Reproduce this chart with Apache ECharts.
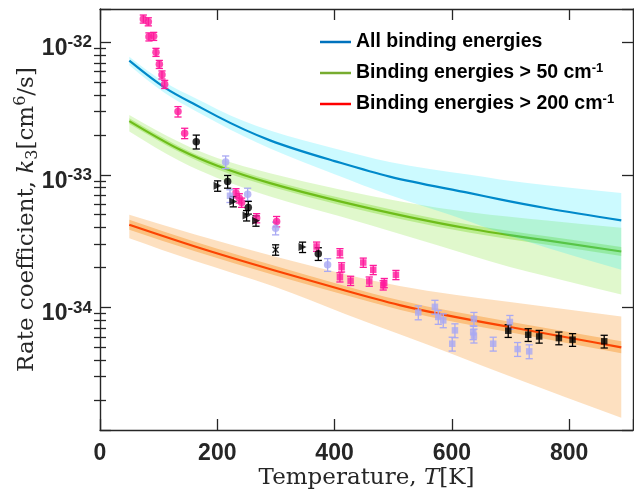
<!DOCTYPE html>
<html><head><meta charset="utf-8">
<script src="https://cdn.jsdelivr.net/npm/echarts@6/dist/echarts.min.js"></script>
<style>html,body{margin:0;padding:0;background:#fff}#c{width:634px;height:495px}</style>
</head><body><div id="c"></div>
<script>
// ---------- data (k in cm^6/s, T in K) ----------
const X_MIN = 0, X_MAX = 909;
const Y_MIN = 1.189e-35, Y_MAX = 1.782e-32;
const xTickStep = 200;
const yMinorTicks = [2e-35,3e-35,4e-35,5e-35,6e-35,7e-35,8e-35,9e-35,
                     2e-34,3e-34,4e-34,5e-34,6e-34,7e-34,8e-34,9e-34,
                     2e-33,3e-33,4e-33,5e-33,6e-33,7e-33,8e-33,9e-33];

const legendNames = ['All binding energies', 'Binding energies > 50 cm-1', 'Binding energies > 200 cm-1'];

// All binding energies
const allT     = [50, 111, 162, 200, 290, 400, 494, 631, 682, 762, 889];
const allK     = [7.26e-33, 4.53e-33, 3.39e-33, 2.76e-33, 1.82e-33, 1.27e-33, 9.70e-34, 7.28e-34, 6.53e-34, 5.60e-34, 4.53e-34];
const allUpper = [7.78e-33, 4.97e-33, 3.80e-33, 3.13e-33, 2.16e-33, 1.58e-33, 1.25e-33, 1.00e-33, 9.23e-34, 8.35e-34, 7.28e-34];
const allLower = [6.70e-33, 4.13e-33, 3.05e-33, 2.47e-33, 1.58e-33, 1.01e-33, 7.03e-34, 4.43e-34, 3.67e-34, 2.82e-34, 1.92e-34];

// Binding energies > 50 cm-1
const b50T       = [50, 136, 200, 290, 409, 631, 699, 762, 889];
const b50K       = [2.54e-33, 1.55e-33, 1.17e-33, 8.65e-34, 6.31e-34, 3.92e-34, 3.51e-34, 3.20e-34, 2.64e-34];
const b50Upper   = [2.83e-33, 1.76e-33, 1.34e-33, 1.03e-33, 7.76e-34, 5.22e-34, 4.82e-34, 4.52e-34, 3.98e-34];
const b50Lower   = [2.12e-33, 1.27e-33, 9.48e-34, 6.87e-34, 4.86e-34, 2.47e-34, 2.02e-34, 1.72e-34, 1.25e-34];
const b50InUpper = [2.67e-33, 1.63e-33, 1.23e-33, 9.16e-34, 6.71e-34, 4.20e-34, 3.77e-34, 3.44e-34, 2.86e-34];
const b50InLower = [2.42e-33, 1.48e-33, 1.10e-33, 8.17e-34, 5.93e-34, 3.66e-34, 3.27e-34, 2.97e-34, 2.44e-34];

// Binding energies > 200 cm-1
const b200T       = [50, 162, 298, 418, 511, 699, 889];
const b200K       = [4.20e-34, 2.88e-34, 1.90e-34, 1.34e-34, 1.04e-34, 7.11e-35, 5.00e-35];
const b200Upper   = [4.99e-34, 3.55e-34, 2.42e-34, 1.78e-34, 1.45e-34, 1.10e-34, 8.55e-35];
const b200Lower   = [3.33e-34, 2.24e-34, 1.43e-34, 8.93e-35, 6.28e-35, 3.03e-35, 1.47e-35];
const b200InUpper = [4.58e-34, 3.13e-34, 2.06e-34, 1.45e-34, 1.13e-34, 7.80e-35, 5.55e-35];
const b200InLower = [3.85e-34, 2.65e-34, 1.75e-34, 1.24e-34, 9.60e-35, 6.49e-35, 4.51e-35];

// Experimental points: [T, k, relative error]
const pinkCircles = [[73.9,1.50e-32,0.07],[82.4,1.43e-32,0.07],[83.5,1.10e-32,0.07],[91.5,1.11e-32,0.07],
  [95.5,8.41e-33,0.07],[101.2,6.82e-33,0.07],[105.7,5.68e-33,0.07],[110.3,4.82e-33,0.07],
  [133,3.00e-33,0.09],[144.4,2.06e-33,0.09],[231.9,7.28e-34,0.08],[237.6,6.67e-34,0.08],
  [241.5,6.18e-34,0.08],[267.1,4.72e-34,0.08],[301.2,4.45e-34,0.09]];
const pinkSquares = [[369.4,2.88e-34,0.08],[409.2,2.57e-34,0.08],[412,2.01e-34,0.08],[409.2,1.69e-34,0.08],
  [427.4,1.59e-34,0.08],[449,2.18e-34,0.08],[459.2,1.57e-34,0.08],[466,1.92e-34,0.08],
  [483,1.47e-34,0.08],[484.8,1.53e-34,0.08],[504.7,1.76e-34,0.08]];
const blackCircles = [[164.2,1.78e-33,0.12],[217.7,8.91e-34,0.11],[252.9,5.68e-34,0.11],[372.3,2.54e-34,0.11]];
const blackTriangles = [[200.6,8.26e-34,0.09],[227.3,6.30e-34,0.09],[250,4.93e-34,0.09],[266,4.50e-34,0.09],[345.4,2.85e-34,0.09]];
const purpleCircles = [[214.3,1.25e-33,0.11],[251.8,7.14e-34,0.11],[299.5,3.96e-34,0.11],[388.2,2.10e-34,0.11]];
const purpleSquares = [[221.7,6.95e-34,0.11],[542.8,9.16e-35,0.12],[571.2,1.01e-34,0.12],[576.9,8.47e-35,0.12],
  [585.4,7.98e-35,0.12],[605.3,6.71e-35,0.12],[600.7,5.32e-35,0.12],[637.7,8.18e-35,0.12],
  [636.5,6.49e-35,0.12],[637.7,6.12e-35,0.12],[670.6,5.32e-35,0.12],[699,7.76e-35,0.12],
  [712.2,4.85e-35,0.12],[732,4.66e-35,0.12]];
const blackSquares = [[696.2,6.67e-35,0.11],[730.3,6.22e-35,0.11],[749,6.04e-35,0.11],[782.6,5.87e-35,0.11],[805.9,5.71e-35,0.11],[859.9,5.55e-35,0.11]];
const blackCross = [[299.5,2.72e-34,0.09]];

// ---------- helpers ----------
const UNIT = 1e-35;          // log axis works in units of 1e-35 cm^6/s
const EXP0 = -35;
const u = v => v / UNIT;
const L10 = v => Math.log10(u(v));
const AX = '#262626';
const SANS = 'Liberation Sans';
const SERIF = 'DejaVu Serif';

function pairs(T, K) { return T.map((t, i) => [t, u(K[i])]); }

// natural cubic spline (in pixel space, y as function of x) -> bezier segments
function splineSegs(pts) {
  const n = pts.length, xs = pts.map(p => p[0]), ys = pts.map(p => p[1]);
  const h = [];
  for (let i = 0; i < n - 1; i++) h.push(xs[i + 1] - xs[i]);
  const M = new Array(n).fill(0);
  if (n > 2) {
    const a = [], b = [], c = [], r = [];
    for (let i = 1; i < n - 1; i++) {
      a.push(h[i - 1]); b.push(2 * (h[i - 1] + h[i])); c.push(h[i]);
      r.push(6 * ((ys[i + 1] - ys[i]) / h[i] - (ys[i] - ys[i - 1]) / h[i - 1]));
    }
    const m = b.length;
    for (let i = 1; i < m; i++) { const w = a[i] / b[i - 1]; b[i] -= w * c[i - 1]; r[i] -= w * r[i - 1]; }
    const sol = new Array(m);
    sol[m - 1] = r[m - 1] / b[m - 1];
    for (let i = m - 2; i >= 0; i--) sol[i] = (r[i] - c[i] * sol[i + 1]) / b[i];
    for (let i = 0; i < m; i++) M[i + 1] = sol[i];
  }
  const d = [];
  for (let i = 0; i < n - 1; i++) d.push((ys[i + 1] - ys[i]) / h[i] - h[i] * (2 * M[i] + M[i + 1]) / 6);
  d.push((ys[n - 1] - ys[n - 2]) / h[n - 2] + h[n - 2] * (M[n - 2] + 2 * M[n - 1]) / 6);
  const segs = [];
  for (let i = 0; i < n - 1; i++) {
    const hh = h[i];
    segs.push([pts[i], [xs[i] + hh / 3, ys[i] + d[i] * hh / 3], [xs[i + 1] - hh / 3, ys[i + 1] - d[i + 1] * hh / 3], pts[i + 1]]);
  }
  return segs;
}
const f2 = v => v.toFixed(2);
function segPath(segs, start) {
  let s = start + f2(segs[0][0][0]) + ' ' + f2(segs[0][0][1]);
  segs.forEach(g => { s += ' C' + f2(g[1][0]) + ' ' + f2(g[1][1]) + ' ' + f2(g[2][0]) + ' ' + f2(g[2][1]) + ' ' + f2(g[3][0]) + ' ' + f2(g[3][1]); });
  return s;
}
function reverseSegs(segs) { return segs.slice().reverse().map(g => [g[3], g[2], g[1], g[0]]); }

function band(T, lo, hi, fill, z) {
  return {type:'custom', silent:true, z:z, xAxisIndex:0, yAxisIndex:0,
    data: T.map((t, i) => [t, u(lo[i]), u(hi[i])]), encode:{x:0, y:[1, 2]},
    renderItem:(params, api) => {
      if (params.dataIndexInside !== 0) return {type:'group', children:[]};
      const n = params.dataInsideLength;
      const up = [], dn = [];
      for (let i = 0; i < n; i++) {
        const x = api.value(0, i);
        up.push(api.coord([x, api.value(2, i)]));
        dn.push(api.coord([x, api.value(1, i)]));
      }
      const d = segPath(splineSegs(up), 'M') + ' ' + segPath(reverseSegs(splineSegs(dn)), 'L') + ' Z';
      return {type:'path', shape:{pathData:d}, style:{fill:fill}};
    }};
}
function curveLine(T, K, color) {
  return {type:'custom', silent:true, z:1, xAxisIndex:0, yAxisIndex:0,
    data: pairs(T, K), encode:{x:0, y:1},
    renderItem:(params, api) => {
      if (params.dataIndexInside !== 0) return {type:'group', children:[]};
      const pts = [];
      for (let i = 0; i < params.dataInsideLength; i++) pts.push(api.coord([api.value(0, i), api.value(1, i)]));
      return {type:'path', shape:{pathData:segPath(splineSegs(pts), 'M')}, style:{fill:'none', stroke:color, lineWidth:2.2}};
    }};
}
// legend-only line series (no data drawn)
function legendSeries(name, color) {
  return {type:'line', name:name, data:[], color:color, lineStyle:{color:color}, symbol:'none'};
}
function errBars(pts, color) {
  return {type:'custom', silent:true, z:5, xAxisIndex:0, yAxisIndex:0,
    data: pts.map(p => [p[0], u(p[1]), u(p[1]*(1-p[2])), u(p[1]*(1+p[2]))]),
    encode:{x:0, y:[1,2,3]},
    renderItem:(params, api) => {
      const x = api.value(0);
      const lo = api.coord([x, api.value(2)]);
      const hi = api.coord([x, api.value(3)]);
      const w = 3.6, st = {stroke:color, lineWidth:1.3};
      return {type:'group', children:[
        {type:'line', shape:{x1:lo[0], y1:lo[1], x2:hi[0], y2:hi[1]}, style:st},
        {type:'line', shape:{x1:lo[0]-w, y1:lo[1], x2:lo[0]+w, y2:lo[1]}, style:st},
        {type:'line', shape:{x1:hi[0]-w, y1:hi[1], x2:hi[0]+w, y2:hi[1]}, style:st}
      ]};
    }};
}
function markers(pts, color, symbol, size, extra) {
  return Object.assign({type:'scatter', silent:true, z:6, xAxisIndex:0, yAxisIndex:0,
    data: pts.map(p => [p[0], u(p[1])]), symbol:symbol, symbolSize:size,
    itemStyle:{color:color}}, extra || {});
}

const PINK = '#ff1a9c', PURPLE = '#a9a9f3', BLACK = '#000000';

const yLog = (pos, showLabel) => ({
  type:'log', logBase:10, min:u(Y_MIN), max:u(Y_MAX), position:pos,
  axisLine:{show:true, onZero:false, lineStyle:{color:AX, width:1.4}},
  axisTick:{show:true, inside:true, length:11, lineStyle:{color:AX, width:1.3}},
  splitLine:{show:false}, minorTick:{show:false},
  axisLabel:{show:showLabel, margin:8, padding:[10,0,0,0],
    formatter: v => { const e = Math.log10(v); if (Math.abs(e - Math.round(e)) > 1e-6) return ''; return '{b|10}{s|' + (Math.round(e) + EXP0) + '}'; },
    rich:{
      b:{fontFamily:SANS, fontWeight:'bold', fontSize:23, color:AX, lineHeight:26, verticalAlign:'bottom'},
      s:{fontFamily:SANS, fontWeight:'bold', fontSize:17, color:AX, lineHeight:7, verticalAlign:'top'}
    }}
});
const yMinor = (pos) => ({
  type:'value', min:L10(Y_MIN), max:L10(Y_MAX), position:pos,
  axisLine:{show:false}, splitLine:{show:false},
  axisTick:{show:true, inside:true, length:6, lineStyle:{color:AX, width:1.3}, customValues: yMinorTicks.map(L10)},
  axisLabel:{show:false}
});
const xAx = (pos, showLabel) => ({
  type:'value', min:X_MIN, max:X_MAX, interval:xTickStep, position:pos,
  axisLine:{show:true, onZero:false, lineStyle:{color:AX, width:1.4}},
  axisTick:{show:true, inside:true, length:11, lineStyle:{color:AX, width:1.3}},
  splitLine:{show:false},
  axisLabel:{show:showLabel, margin:12, fontFamily:SANS, fontWeight:'bold', fontSize:23, color:AX,
    formatter: v => (v % xTickStep === 0 ? String(v) : '')}
});

const xBottom = xAx('bottom', true);
Object.assign(xBottom, {name:'Temperature, {i|T}[K]', nameLocation:'middle', nameGap:35, nameMoveOverlap:false,
  nameTextStyle:{fontFamily:SERIF, fontSize:23, color:AX, lineHeight:26,
    rich:{i:{fontFamily:SERIF, fontStyle:'italic', fontSize:23, color:AX}}}});
const yLeft = yLog('left', true);
Object.assign(yLeft, {name:'Rate coefficient, {i|k}{sub|3}[cm{sup|6}/s]', nameLocation:'middle', nameGap:59, nameRotate:90, nameMoveOverlap:false,
  nameTextStyle:{fontFamily:SERIF, fontSize:23, color:AX, lineHeight:28,
    rich:{i:{fontFamily:SERIF, fontStyle:'italic', fontSize:23, color:AX, lineHeight:28},
          sub:{fontFamily:SERIF, fontSize:16, color:AX, lineHeight:14, verticalAlign:'bottom'},
          sup:{fontFamily:SERIF, fontSize:16, color:AX, lineHeight:14, verticalAlign:'top'}}}});

const series = [
  legendSeries(legendNames[0], '#0072BD'),
  legendSeries(legendNames[1], '#77AC30'),
  legendSeries(legendNames[2], '#FF0000'),
  curveLine(allT, allK, '#0072BD'),
  curveLine(b50T, b50K, '#77AC30'),
  curveLine(b200T, b200K, '#FF0000'),
  band(b50T, b50Lower, b50Upper, 'rgba(100,220,0,0.2)', 2),
  band(b50T, b50InLower, b50InUpper, 'rgba(100,210,0,0.3)', 2),
  band(b200T, b200Lower, b200Upper, 'rgba(247,131,3,0.25)', 3),
  band(b200T, b200InLower, b200InUpper, 'rgba(247,131,3,0.35)', 3),
  band(allT, allLower, allUpper, 'rgba(0,230,255,0.2)', 4),
  errBars(pinkCircles, PINK), errBars(pinkSquares, PINK),
  errBars(purpleCircles, PURPLE), errBars(purpleSquares, PURPLE),
  errBars(blackCircles, BLACK), errBars(blackTriangles, BLACK),
  errBars(blackSquares, BLACK), errBars(blackCross, BLACK),
  markers(pinkCircles, PINK, 'circle', 7.5),
  markers(pinkSquares, PINK, 'rect', 6.5),
  markers(purpleCircles, PURPLE, 'circle', 7.5),
  markers(purpleSquares, PURPLE, 'rect', 6.5),
  markers(blackCircles, BLACK, 'circle', 7.5),
  markers(blackTriangles, BLACK, 'triangle', 8, {symbolRotate:-90}),
  markers(blackSquares, BLACK, 'rect', 6.5),
  markers(blackCross, BLACK, 'path://M0,0L10,10M10,0L0,10', 6,
    {itemStyle:{color:'rgba(0,0,0,0)', borderColor:BLACK, borderWidth:1.4}})
];

const chart = echarts.init(document.getElementById('c'), null, {renderer:'canvas'});
chart.setOption({
  animation:false,
  backgroundColor:'#ffffff',
  grid:{left:100, right:1, top:9, bottom:65, containLabel:false, outerBoundsMode:'none'},
  xAxis:[xBottom, xAx('top', false)],
  yAxis:[yLeft, yMinor('left'), yLog('right', false), yMinor('right')],
  legend:{orient:'vertical', left:315, top:26, itemWidth:31, itemHeight:2.5, itemGap:9, icon:'rect',
    data:legendNames, selectedMode:false,
    formatter: n => n.replace('cm-1', 'cm{s|-1}'),
    textStyle:{fontFamily:SANS, fontWeight:'bold', fontSize:19.5, color:'#000', lineHeight:22,
      rich:{s:{fontFamily:SANS, fontWeight:'bold', fontSize:13, color:'#000', lineHeight:12, verticalAlign:'top'}}}},
  series: series
});
</script></body></html>
